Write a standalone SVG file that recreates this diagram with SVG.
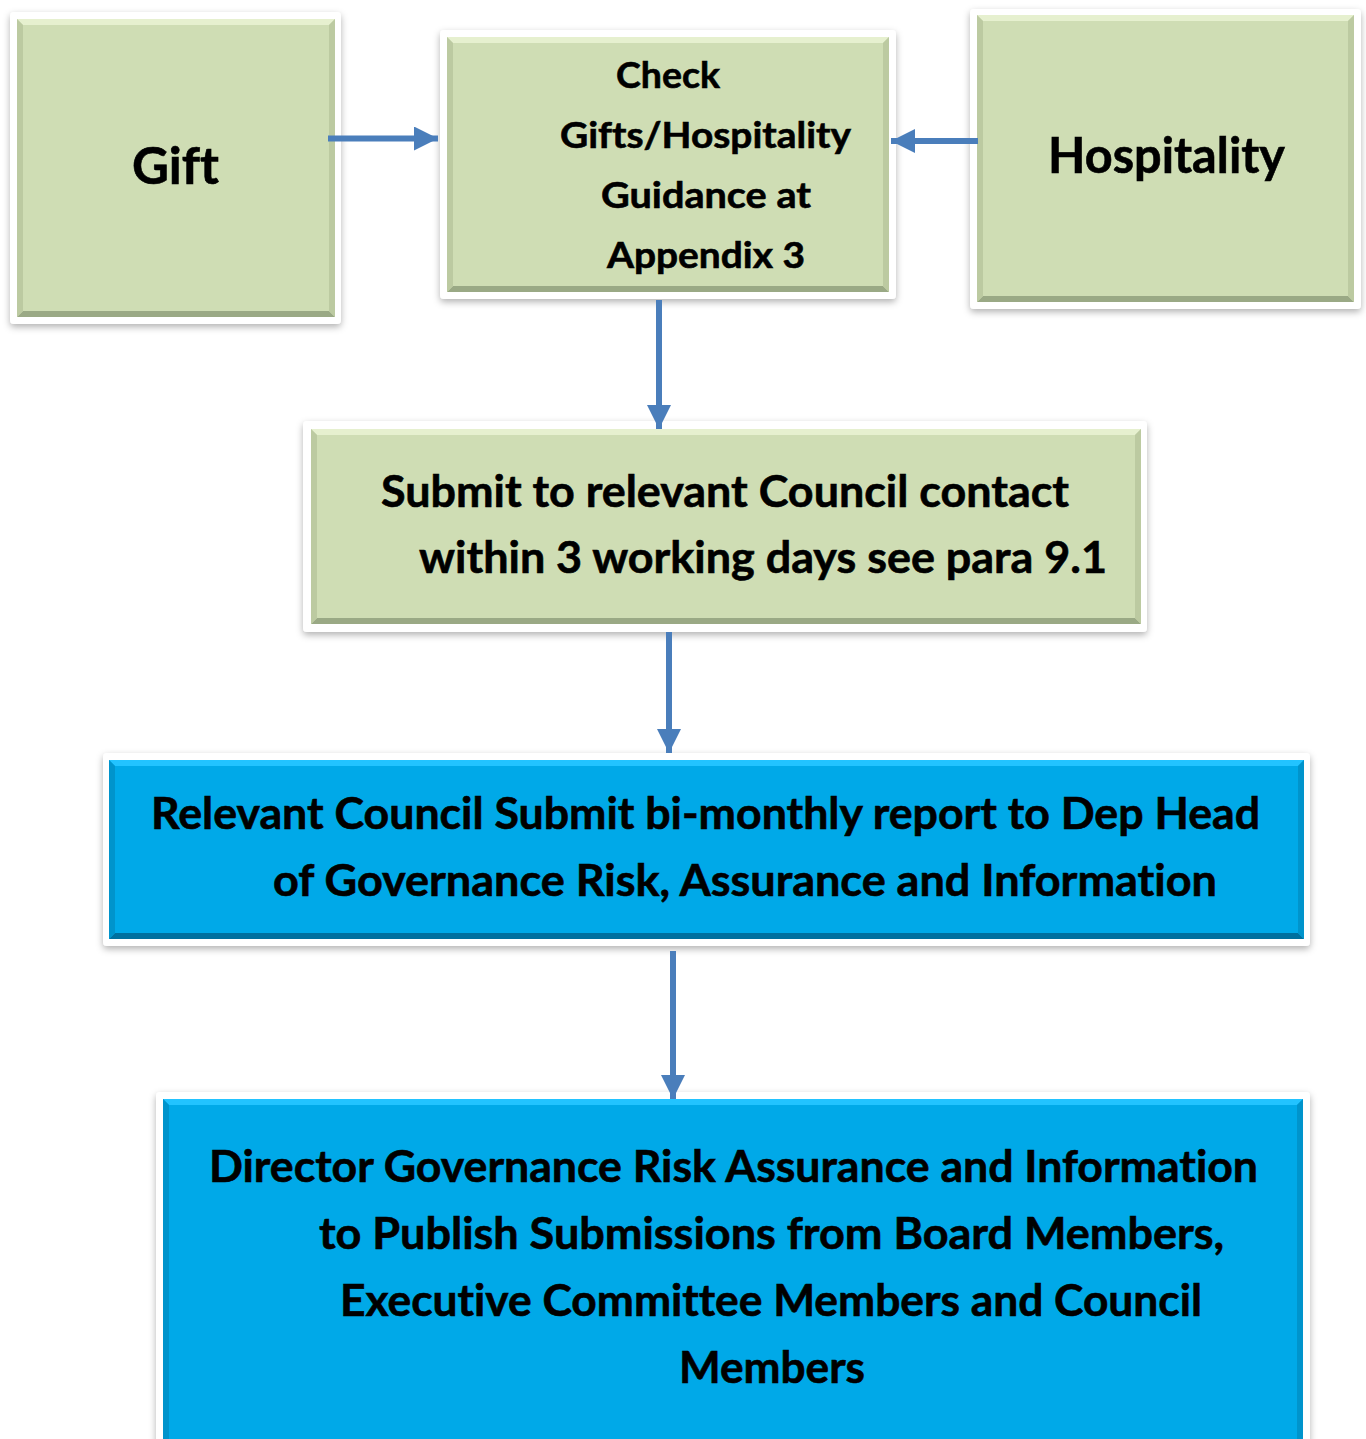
<svg xmlns="http://www.w3.org/2000/svg" width="1366" height="1439" viewBox="0 0 1366 1439">
<defs>
<filter id="sh" x="-10%" y="-10%" width="120%" height="125%">
<feDropShadow dx="0" dy="3" stdDeviation="3.5" flood-color="#000" flood-opacity="0.3"/>
</filter>
<marker id="ah" viewBox="0 0 24 24" refX="24" refY="12" markerWidth="24" markerHeight="24" markerUnits="userSpaceOnUse" orient="auto">
<path d="M0,0 L24,12 L0,24 Z" fill="#4a7ebb"/>
</marker>
</defs>
<style>
.frame{fill:#ffffff;filter:url(#sh)}
.gf{fill:#cfddb4}
.gt{fill:#e6f0cf}
.gb{fill:#9aa985}
.gs{fill:#bccaa1}
.bf{fill:#00a9e8}
.bt{fill:#22c3ff}
.bb{fill:#00709f}
.bs{fill:#0094cc}
.t{font-family:Lato,"Open Sans","Liberation Sans",sans-serif;font-weight:700;fill:#000000;stroke:#000000;stroke-width:0.6;font-variant-ligatures:none}
.c{stroke:#4a7ebb;stroke-width:6;fill:none;marker-end:url(#ah)}
</style>
<rect width="1366" height="1439" fill="#ffffff"/>

<g id="node-gift">
<rect class="frame" x="10" y="12" width="331" height="312" rx="4"/>
<rect class="gf" x="17" y="19" width="318" height="298"/>
<polygon class="gt" points="17,19 335,19 329,25 23,25"/>
<polygon class="gb" points="17,317 335,317 329,311 23,311"/>
<polygon class="gs" points="17,19 23,25 23,311 17,317"/>
<polygon class="gs" points="335,19 329,25 329,311 335,317"/>
<text class="t" x="132" y="184" font-size="52" textLength="87" lengthAdjust="spacingAndGlyphs">Gift</text>
</g>

<g id="node-check">
<rect class="frame" x="440" y="30" width="456" height="269" rx="4"/>
<rect class="gf" x="447" y="37" width="442" height="255"/>
<polygon class="gt" points="447,37 889,37 883,43 453,43"/>
<polygon class="gb" points="447,292 889,292 883,286 453,286"/>
<polygon class="gs" points="447,37 453,43 453,286 447,292"/>
<polygon class="gs" points="889,37 883,43 883,286 889,292"/>
<text class="t" x="616" y="88" font-size="37" textLength="104" lengthAdjust="spacingAndGlyphs">Check</text>
<text class="t" x="560" y="148" font-size="37" textLength="291" lengthAdjust="spacingAndGlyphs">Gifts/Hospitality</text>
<text class="t" x="601" y="208" font-size="37" textLength="210" lengthAdjust="spacingAndGlyphs">Guidance at</text>
<text class="t" x="607" y="268" font-size="37" textLength="198" lengthAdjust="spacingAndGlyphs">Appendix 3</text>
</g>

<g id="node-hospitality">
<rect class="frame" x="970" y="9" width="391" height="300" rx="4"/>
<rect class="gf" x="977" y="15" width="377" height="287"/>
<polygon class="gt" points="977,15 1354,15 1348,21 983,21"/>
<polygon class="gb" points="977,302 1354,302 1348,296 983,296"/>
<polygon class="gs" points="977,15 983,21 983,296 977,302"/>
<polygon class="gs" points="1354,15 1348,21 1348,296 1354,302"/>
<text class="t" x="1048" y="173" font-size="50" textLength="237" lengthAdjust="spacingAndGlyphs">Hospitality</text>
</g>

<g id="node-submit">
<rect class="frame" x="303" y="421" width="844" height="211" rx="4"/>
<rect class="gf" x="311" y="429" width="830" height="195"/>
<polygon class="gt" points="311,429 1141,429 1135,435 317,435"/>
<polygon class="gb" points="311,624 1141,624 1135,618 317,618"/>
<polygon class="gs" points="311,429 317,435 317,618 311,624"/>
<polygon class="gs" points="1141,429 1135,435 1135,618 1141,624"/>
<text class="t" x="381" y="507" font-size="44" textLength="688" lengthAdjust="spacingAndGlyphs">Submit to relevant Council contact</text>
<text class="t" x="419" y="573" font-size="44" textLength="688" lengthAdjust="spacingAndGlyphs">within 3 working days see para 9.1</text>
</g>

<g id="node-report">
<rect class="frame" x="103" y="753" width="1207" height="193" rx="4"/>
<rect class="bf" x="109" y="760" width="1195" height="179"/>
<polygon class="bt" points="109,760 1304,760 1298,766 115,766"/>
<polygon class="bb" points="109,939 1304,939 1298,933 115,933"/>
<polygon class="bs" points="109,760 115,766 115,933 109,939"/>
<polygon class="bs" points="1304,760 1298,766 1298,933 1304,939"/>
<text class="t" x="151" y="829" font-size="44" textLength="1109" lengthAdjust="spacingAndGlyphs">Relevant Council Submit bi-monthly report to Dep Head</text>
<text class="t" x="273" y="896" font-size="44" textLength="944" lengthAdjust="spacingAndGlyphs">of Governance Risk, Assurance and Information</text>
</g>

<g id="node-director">
<rect class="frame" x="156" y="1092" width="1154" height="370" rx="4"/>
<rect class="bf" x="163" y="1099" width="1140" height="360"/>
<polygon class="bt" points="163,1099 1303,1099 1297,1105 169,1105"/>
<polygon class="bs" points="163,1099 169,1105 169,1459 163,1459"/>
<polygon class="bs" points="1303,1099 1297,1105 1297,1459 1303,1459"/>
<text class="t" x="209" y="1182" font-size="44" textLength="1049" lengthAdjust="spacingAndGlyphs">Director Governance Risk Assurance and Information</text>
<text class="t" x="319" y="1249" font-size="44" textLength="905" lengthAdjust="spacingAndGlyphs">to Publish Submissions from Board Members,</text>
<text class="t" x="340" y="1316" font-size="44" textLength="862" lengthAdjust="spacingAndGlyphs">Executive Committee Members and Council</text>
<text class="t" x="679" y="1383" font-size="44" textLength="186" lengthAdjust="spacingAndGlyphs">Members</text>
</g>

<g id="connectors">
<line class="c" x1="328" y1="138.5" x2="438" y2="138.5"/>
<line class="c" x1="978" y1="141" x2="891" y2="141"/>
<line class="c" x1="659" y1="300" x2="659" y2="429"/>
<line class="c" x1="669" y1="632" x2="669" y2="753"/>
<line class="c" x1="673" y1="951" x2="673" y2="1099"/>
</g>
</svg>
